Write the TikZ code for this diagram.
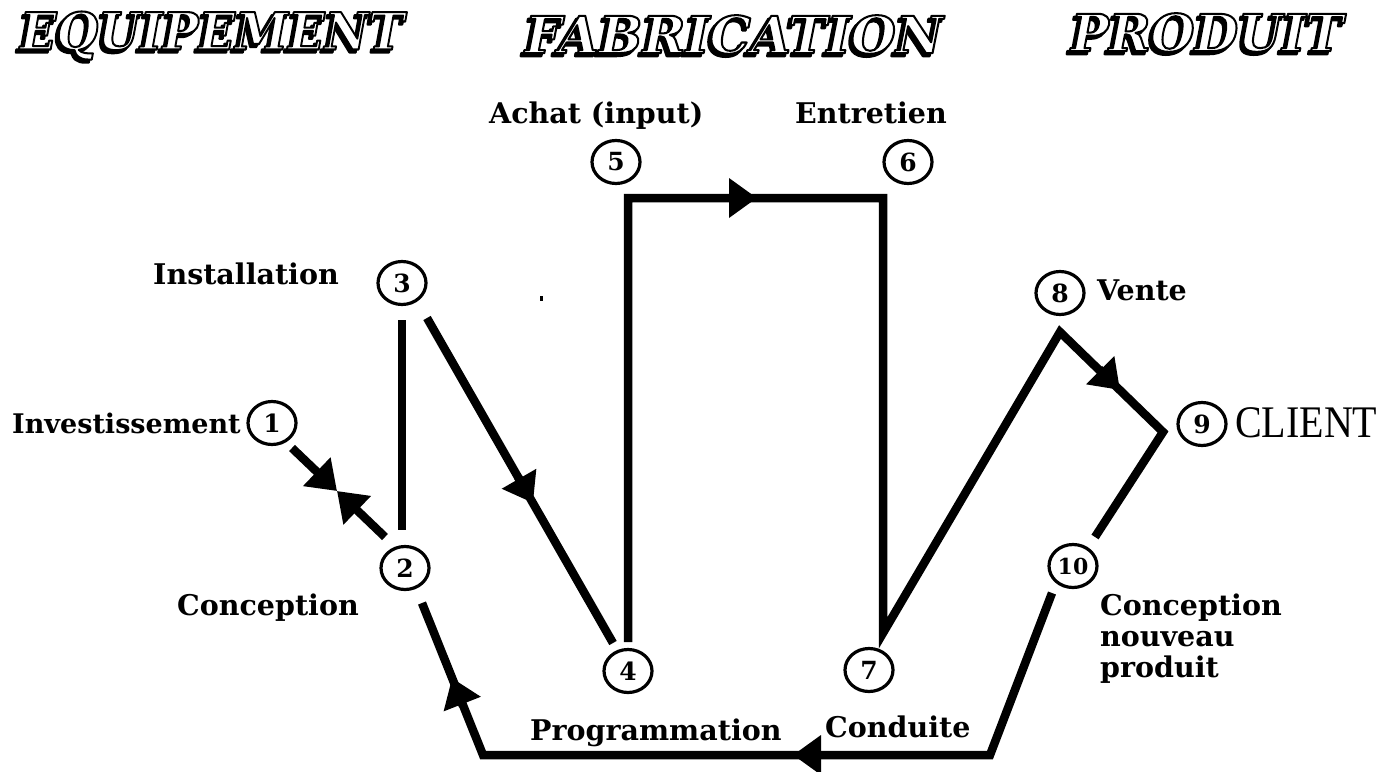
\documentclass[tikz,border=0pt]{standalone}
\usepackage{fontspec}
\setmainfont{DejaVu Serif}
\newfontfamily\clientf{Liberation Serif}
\usetikzlibrary{arrows.meta,shapes.geometric,calc}
\newsavebox\hdboxa
\newsavebox\hdboxb
\newcommand\hdtitle[3]{%
  \sbox\hdboxa{\resizebox{#1}{#2}{\bfseries\itshape\special{pdf:literal direct 2 Tr 0.45 w 1 j}#3\special{pdf:literal direct 0 Tr}}}%
  \sbox\hdboxb{\resizebox{#1}{#2}{\bfseries\itshape\color{white}\special{pdf:literal direct 0 G 2 Tr 0.4 w 1 j}#3\special{pdf:literal direct 0 Tr}}}%
  \makebox[0pt][l]{\kern-3pt\raisebox{-3pt}{\usebox\hdboxa}}\usebox\hdboxb}
\tikzset{
  lw/.style={line width=8.5pt, line join=miter, miter limit=20},
  arr/.style={line width=8.5pt, -{Triangle[length=28pt,width=38pt]}},
  circ/.style={draw, line width=3.2pt, ellipse, minimum width=48pt, minimum height=43pt,
    inner sep=0pt, font=\fontsize{25}{25}\selectfont\bfseries},
  lab/.style={anchor=base west, inner sep=0pt, font=\fontsize{28.5}{31}\selectfont\bfseries},
  hd/.style={inner sep=0pt, anchor=center},
}
\begin{document}
\begin{tikzpicture}[x=1pt,y=-1pt]
\useasboundingbox (0,0) rectangle (1381,771);
\fill[white] (0,0) rectangle (1381,771);

% titles
\node[hd] (hEq) at (212,37) {\hdtitle{384pt}{38pt}{EQUIPEMENT}};
\node[hd] (hFab) at (734,36) {\hdtitle{418pt}{38pt}{FABRICATION}};
\node[hd] (hProd) at (1207,34) {\hdtitle{272pt}{38pt}{PRODUIT}};

% numbered circles
\node[circ] (n1) at (272,423) {1};
\node[circ] (n2) at (405,568) {2};
\node[circ] (n3) at (402,283) {3};
\node[circ] (n4) at (628,671) {4};
\node[circ] (n5) at (616,162) {5};
\node[circ] (n6) at (908,162) {6};
\node[circ] (n7) at (869,670) {7};
\node[circ] (n8) at (1060,293) {8};
\node[circ] (n9) at (1202,424) {9};
\node[circ, font=\fontsize{22}{22}\selectfont\bfseries] (n10) at (1073,566) {10};

% labels
\node[lab, font=\fontsize{27}{31}\selectfont\bfseries] (lInv) at (12,433) {Investissement};
\node[lab] (lIns) at (153,284) {Installation};
\node[lab] (lCon) at (177,615) {Conception};
\node[lab] (lAch) at (489,123) {Achat (input)};
\node[lab] (lEnt) at (795,123) {Entretien};
\node[lab] (lVen) at (1097,300) {Vente};
\node[lab] (lPro) at (530,740) {Programmation};
\node[lab] (lCdt) at (825,737) {Conduite};
\node[lab, align=left] (lCnp) at (1100,677) {Conception\\nouveau\\produit};
\node[anchor=base west, inner sep=0pt, font=\clientf\fontsize{40}{40}\selectfont] (lCli) at (1235,437) {\scalebox{1}[1.13]{CLIENT}};

% 1 -- 2 with two arrowheads meeting
\coordinate (m12) at (337,491);
\draw[arr] ([shift={(20,25)}]n1.center) -- (m12);
\draw[arr] ([shift={(-20,-31)}]n2.center) -- (m12);

% 3 -- 2
\draw[lw] ([shift={(0,37)}]n3.center) -- ([shift={(-3,-38)}]n2.center);

% 3 -> 4
\draw[lw] ([shift={(25,35)}]n3.center) -- ([shift={(-15,-28)}]n4.center);
\draw[arr] (518,477) -- (533,503);

% 4 -> 5 -> 6 -> 7 -> 8 -> 9 -> 10
\draw[lw] ([shift={(0,-29)}]n4.center)
  -- ([shift={(12,36)}]n5.center)
  -- ([shift={(-25,36)}]n6.center)
  -- ([shift={(14,-37)}]n7.center)
  -- ([shift={(0,39)}]n8.center)
  -- ([shift={(-39,8)}]n9.center)
  -- ([shift={(22,-29)}]n10.center);
\draw[arr] (725,198) -- (757,198);
\draw[arr] (1099,369) -- (1120,390);

% 10 -> 2
\coordinate (b1) at (990,755);
\coordinate (b2) at (483,755);
\draw[lw] ([shift={(-21,27)}]n10.center) -- (b1) -- (b2) -- ([shift={(17,35)}]n2.center);
\draw[arr] (830,755) -- (793,755);
\draw[arr] (463,706) -- (452,678);

% small dot
\fill (540,296) rectangle (543,301);
\end{tikzpicture}
\end{document}
